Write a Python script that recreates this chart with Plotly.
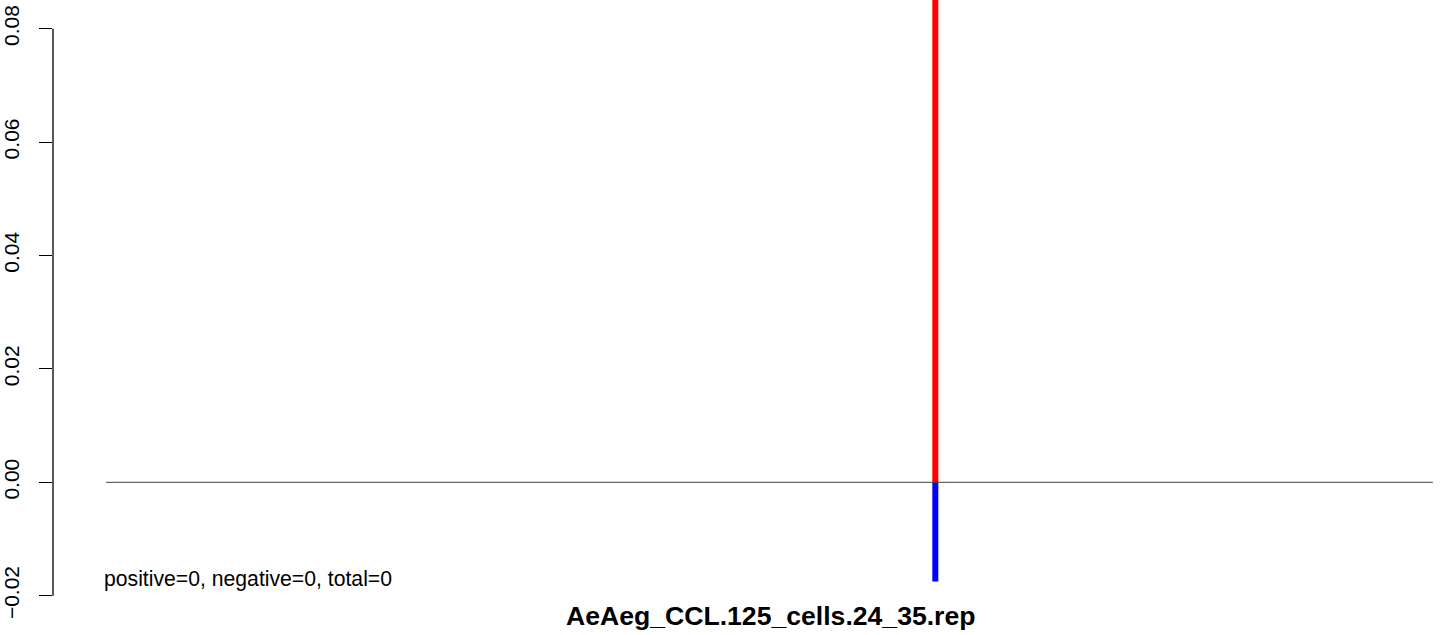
import plotly.graph_objects as go

# ---- data ----
seq_start = 0
seq_end = 24
positions = [15]
pos_values = [0.09]
neg_values = [-0.0175]
y_ticks = [-0.02, 0.00, 0.02, 0.04, 0.06, 0.08]
y_tick_labels = ["\u22120.02", "0.00", "0.02", "0.04", "0.06", "0.08"]
n_positive, n_negative, n_total = 0, 0, 0
title_text = "AeAeg_CCL.125_cells.24_35.rep"

FONT = "Liberation Sans, Arial, Helvetica, sans-serif"
W, H = 1444, 635
ML, MB = 51, 35

span = seq_end - seq_start
x_lo = seq_start - 0.04 * span
px_per_x = (1486 - 51) / (span * 1.08)
x_hi = x_lo + (W - ML) / px_per_x

px_per_y = 5670.0
y_lo = -(600 - 482.3) / px_per_y
y_hi = 482.3 / px_per_y

bar_w = 6 / px_per_x

fig = go.Figure()
fig.add_trace(go.Scatter(x=[seq_start, seq_end], y=[0, 0], mode="lines",
                         line=dict(color="#404040", width=1), hoverinfo="skip"))
fig.add_trace(go.Bar(x=positions, y=pos_values, width=bar_w,
                     marker=dict(color="#ff0000", line=dict(width=0))))
fig.add_trace(go.Bar(x=positions, y=neg_values, width=bar_w,
                     marker=dict(color="#0000ff", line=dict(width=0))))

# y axis line limited to tick range
fig.add_shape(type="line", xref="paper", yref="y", x0=0, x1=0,
              y0=min(y_ticks), y1=max(y_ticks), line=dict(color="black", width=1.3))

fig.add_annotation(x=seq_start, y=-0.0170, xref="x", yref="y", xshift=-4,
                   text=f"positive={n_positive}, negative={n_negative}, total={n_total}",
                   showarrow=False, xanchor="left", yanchor="middle",
                   font=dict(family=FONT, size=21.2, color="black"))
fig.add_annotation(x=(x_lo + seq_end + 0.04 * span) / 2, y=(600 - 616) / 600,
                   xref="x", yref="paper", xshift=2, text=f"<b>{title_text}</b>",
                   showarrow=False, xanchor="center", yanchor="middle",
                   font=dict(family=FONT, size=26.6, color="black"))

fig.update_layout(
    width=W, height=H,
    margin=dict(l=ML, r=0, t=0, b=MB, pad=0),
    paper_bgcolor="white", plot_bgcolor="white",
    showlegend=False, barmode="overlay",
    xaxis=dict(range=[x_lo, x_hi], visible=False, showgrid=False, zeroline=False),
    yaxis=dict(range=[y_lo, y_hi], showgrid=False, zeroline=False, showline=False,
               tickmode="array", tickvals=y_ticks, ticktext=y_tick_labels,
               ticks="outside", ticklen=13, tickwidth=1.3, tickcolor="black",
               tickangle=-90, ticklabelstandoff=12,
               tickfont=dict(family=FONT, size=21, color="black")),
)

fig.write_html("out.html", config={"displayModeBar": False},
               post_script="document.body.style.margin='0';document.body.style.overflow='hidden';")
